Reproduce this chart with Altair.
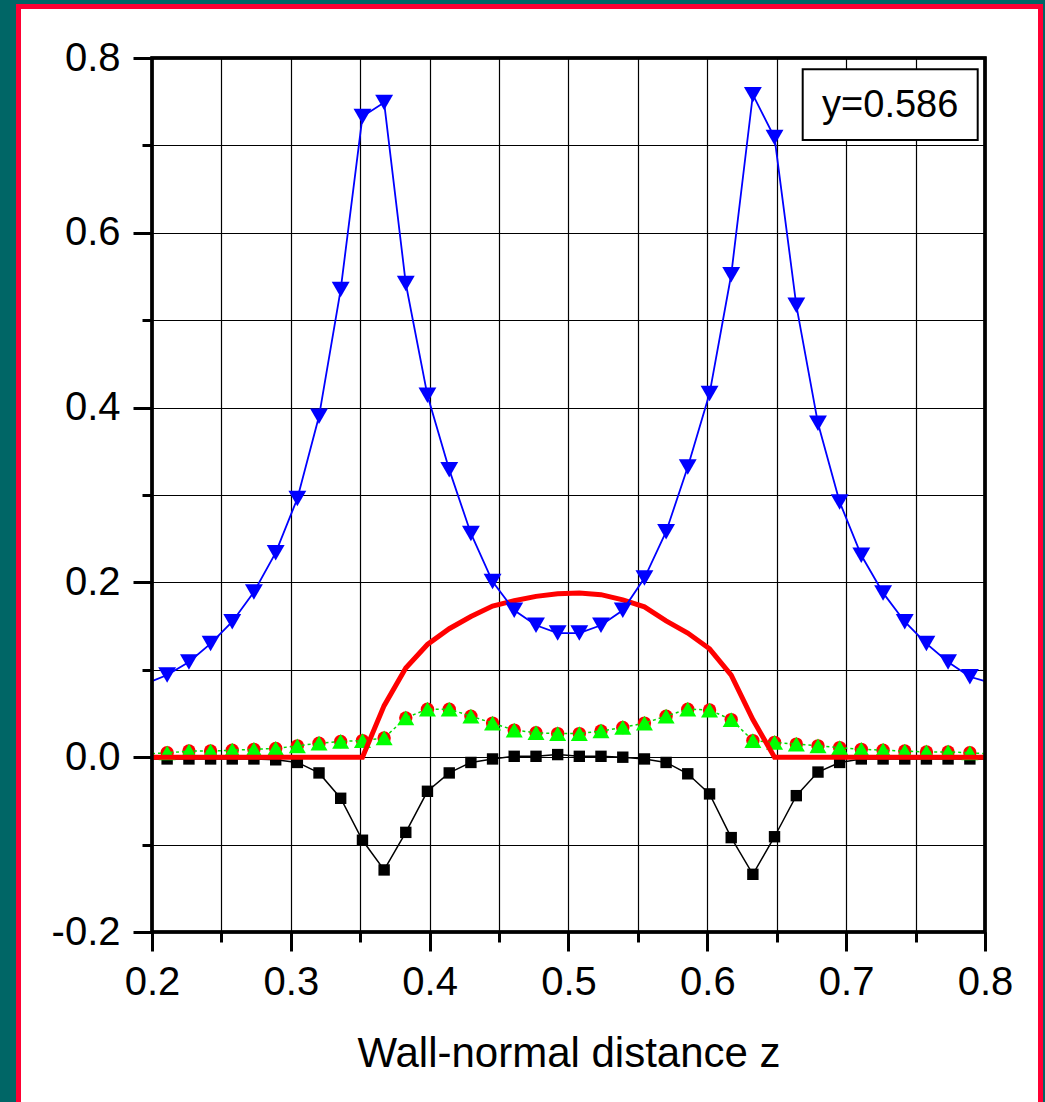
import altair as alt
import pandas as pd

# ---------------- data ----------------
z_pts = [0.2109, 0.2266, 0.2422, 0.2578, 0.2734, 0.2891, 0.3047, 0.3203, 0.3359, 0.3516,
         0.3672, 0.3828, 0.3984, 0.4141, 0.4297, 0.4453, 0.4609, 0.4766, 0.4922, 0.5078,
         0.5234, 0.5391, 0.5547, 0.5703, 0.5859, 0.6016, 0.6172, 0.6328, 0.6484, 0.6641,
         0.6797, 0.6953, 0.7109, 0.7266, 0.7422, 0.7578, 0.7734, 0.7891]

blue_vals = [0.094, 0.109, 0.130, 0.155, 0.189, 0.234, 0.296, 0.390, 0.535, 0.733,
             0.749, 0.542, 0.414, 0.329, 0.256, 0.201, 0.168, 0.151, 0.142, 0.142,
             0.151, 0.168, 0.205, 0.258, 0.332, 0.416, 0.552, 0.758, 0.709, 0.517,
             0.382, 0.292, 0.231, 0.188, 0.155, 0.130, 0.109, 0.092]

black_vals = [-0.002, -0.002, -0.002, -0.002, -0.002, -0.003, -0.006, -0.018, -0.047, -0.095,
              -0.129, -0.086, -0.039, -0.018, -0.006, -0.002, 0.001, 0.001, 0.003, 0.001,
              0.001, 0.000, -0.002, -0.006, -0.019, -0.042, -0.092, -0.134, -0.091, -0.044,
              -0.017, -0.006, -0.002, -0.002, -0.002, -0.002, -0.002, -0.002]

green_vals = [0.005, 0.007, 0.007, 0.008, 0.009, 0.010, 0.013, 0.016, 0.018, 0.019,
              0.022, 0.045, 0.055, 0.055, 0.047, 0.039, 0.031, 0.028, 0.027, 0.027,
              0.030, 0.034, 0.039, 0.047, 0.055, 0.054, 0.043, 0.019, 0.017, 0.015,
              0.013, 0.011, 0.009, 0.008, 0.007, 0.006, 0.006, 0.005]

red_circle_vals = [0.005, 0.007, 0.007, 0.008, 0.009, 0.010, 0.013, 0.016, 0.018, 0.019,
                   0.022, 0.045, 0.055, 0.055, 0.047, 0.039, 0.031, 0.028, 0.027, 0.027,
                   0.030, 0.034, 0.039, 0.047, 0.055, 0.054, 0.043, 0.019, 0.017, 0.015,
                   0.013, 0.011, 0.009, 0.008, 0.007, 0.006, 0.006, 0.005]

# line values where the curves meet the plot edges (z = 0.2 and z = 0.8)
edge_z = [0.2, 0.8]
blue_edge = [0.087, 0.087]
black_edge = [-0.002, -0.002]
green_edge = [0.004, 0.004]

red_z = [0.2, 0.3516, 0.3672, 0.3828, 0.3984, 0.4141, 0.4297, 0.4453, 0.4609, 0.4766,
         0.4922, 0.5078, 0.5234, 0.5391, 0.5547, 0.5703, 0.5859, 0.6016, 0.6172, 0.6328,
         0.6484, 0.8]
red_vals = [0.0, 0.0, 0.059, 0.102, 0.129, 0.147, 0.161, 0.173, 0.179, 0.184,
            0.187, 0.188, 0.186, 0.180, 0.172, 0.156, 0.142, 0.124, 0.094, 0.043,
            0.0, 0.0]

x_major = [0.2, 0.3, 0.4, 0.5, 0.6, 0.7, 0.8]
x_minor = [0.2, 0.25, 0.3, 0.35, 0.4, 0.45, 0.5, 0.55, 0.6, 0.65, 0.7, 0.75, 0.8]
y_major = [-0.2, 0.0, 0.2, 0.4, 0.6, 0.8]
y_minor = [-0.2, -0.1, 0.0, 0.1, 0.2, 0.3, 0.4, 0.5, 0.6, 0.7, 0.8]

x_title = "Wall-normal distance z"
box_text = "y=0.586"

# ---------------- styling ----------------
FONT = "Liberation Sans"
TEAL = "#006666"
FRAME_RED = "#FF0033"

def line_df(vals, edges):
    return pd.DataFrame({"z": [edge_z[0]] + z_pts + [edge_z[1]],
                         "v": [edges[0]] + vals + [edges[1]]})

def pts_df(vals):
    return pd.DataFrame({"z": z_pts, "v": vals})

xs = alt.Scale(domain=[0.2, 0.8], nice=False, zero=False)
ys = alt.Scale(domain=[-0.2, 0.8], nice=False, zero=False)

label_expr = "datum.value < 0 ? '-' + format(-datum.value, '.1f') : format(datum.value, '.1f')"

x_major_axis = alt.Axis(orient="bottom", values=x_major, labelExpr=label_expr,
                        tickSize=19, tickWidth=3, tickColor="black",
                        labelFont=FONT, labelFontSize=40, labelColor="black",
                        labelPadding=11, labelFlush=False, labelOverlap=False,
                        grid=False, domain=False,
                        title=x_title, titleFont=FONT, titleFontSize=42,
                        titleFontWeight="normal", titleColor="black",
                        titleX=416.5, titleY=134.7, titleAlign="center",
                        titleBaseline="alphabetic")
x_minor_axis = alt.Axis(orient="bottom", values=x_minor, tickSize=10, tickWidth=3,
                        tickColor="black", labels=False, grid=True,
                        gridColor="black", gridWidth=1.2, domain=False, title="")
y_major_axis = alt.Axis(orient="left", values=y_major, labelExpr=label_expr,
                        tickSize=19, tickWidth=3, tickColor="black",
                        labelFont=FONT, labelFontSize=40, labelColor="black",
                        labelPadding=13, labelFlush=False, labelOverlap=False,
                        grid=False, domain=False, title="")
y_minor_axis = alt.Axis(orient="left", values=y_minor, tickSize=10, tickWidth=3,
                        tickColor="black", labels=False, grid=True,
                        gridColor="black", gridWidth=1.2, domain=False, title="")

def enc(xaxis=None, yaxis=None):
    return dict(x=alt.X("z:Q", scale=xs, axis=xaxis),
                y=alt.Y("v:Q", scale=ys, axis=yaxis))

dummy = pd.DataFrame({"k": [0]})

# outer teal surround, red frame and the plot-area border (decoration)
teal_frame = alt.Chart(dummy).mark_rect(fill="transparent", stroke=TEAL, strokeWidth=40).encode(
    x=alt.value(-156), x2=alt.value(911), y=alt.value(-74), y2=alt.value(1072))
red_frame = alt.Chart(dummy).mark_rect(fill="transparent", stroke=FRAME_RED, strokeWidth=5).encode(
    x=alt.value(-133.5), x2=alt.value(888.5), y=alt.value(-51.5), y2=alt.value(1057))
plot_border = alt.Chart(dummy).mark_rect(fill="transparent", stroke="black", strokeWidth=3.5).encode(
    x=alt.value(0), x2=alt.value(833), y=alt.value(0), y2=alt.value(874))

black_line = alt.Chart(line_df(black_vals, black_edge)).mark_line(
    color="black", strokeWidth=1.5).encode(**enc(x_major_axis, y_major_axis))
black_pts = alt.Chart(pts_df(black_vals)).mark_point(
    shape="square", filled=True, size=130, color="black", opacity=1).encode(**enc())

red_pts = alt.Chart(pts_df(red_circle_vals)).mark_point(
    shape="circle", filled=True, size=180, color="#FF0000", opacity=1).encode(**enc())

green_line = alt.Chart(line_df(green_vals, green_edge)).mark_line(
    color="#00DD00", strokeWidth=1.5, strokeDash=[3, 3]).encode(**enc())
green_pts = alt.Chart(pts_df(green_vals)).mark_point(
    shape="triangle-up", filled=True, size=290, color="#00FF00", opacity=1).encode(**enc())

red_line = alt.Chart(pd.DataFrame({"z": red_z, "v": red_vals})).mark_line(
    color="#FF0000", strokeWidth=5).encode(**enc())

blue_line = alt.Chart(line_df(blue_vals, blue_edge)).mark_line(
    color="#0000FF", strokeWidth=1.8).encode(**enc(x_minor_axis, y_minor_axis))
blue_pts = alt.Chart(pts_df(blue_vals)).mark_point(
    shape="triangle-down", filled=True, size=320, color="#0000FF", opacity=1).encode(**enc())

box = alt.Chart(dummy).mark_rect(fill="white", stroke="black", strokeWidth=2).encode(
    x=alt.value(650.7), x2=alt.value(825.7), y=alt.value(11.3), y2=alt.value(82))
box_label = alt.Chart(dummy).mark_text(
    text=box_text, font=FONT, fontSize=38, color="black", align="center",
    baseline="alphabetic").encode(x=alt.value(738.2), y=alt.value(59.3))

chart = alt.layer(
    teal_frame, red_frame,
    black_line, black_pts, red_pts, green_line, green_pts,
    red_line, blue_line, blue_pts, plot_border, box, box_label
).resolve_axis(x="independent", y="independent").properties(
    width=833, height=874,
    autosize=alt.AutoSizeParams(type="none"),
    padding={"left": 152, "top": 58, "right": 60, "bottom": 170},
    background="white",
).configure_view(stroke="black", strokeWidth=3, fill="white")

chart.save("out.html", embed_options={"renderer": "svg", "actions": False})
